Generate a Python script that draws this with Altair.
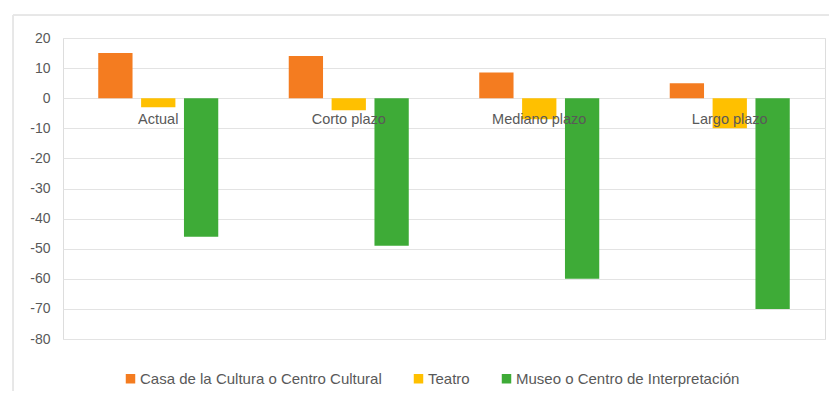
import altair as alt
import pandas as pd

categories = ["Actual", "Corto plazo", "Mediano plazo", "Largo plazo"]
series = ["Casa de la Cultura o Centro Cultural", "Teatro", "Museo o Centro de Interpretación"]
casa = [15, 14, 8.5, 5]
teatro = [-3, -4, -7, -10]
museo = [-46, -49, -60, -70]
y_ticks = [20, 10, 0, -10, -20, -30, -40, -50, -60, -70, -80]
colors = ["#F47C20", "#FFC000", "#3EAB37"]

rows = []
for i, c in enumerate(categories):
    for s, vals in zip(series, [casa, teatro, museo]):
        rows.append({"cat": c, "serie": s, "valor": vals[i]})
df = pd.DataFrame(rows)
lab = pd.DataFrame({"cat": categories})

x_enc = alt.X("cat:N", sort=categories,
              scale=alt.Scale(paddingInner=0.37, paddingOuter=0.185),
              axis=None)

y_scale = alt.Scale(domain=[-80, 20], nice=False, zero=False)
y_axis = alt.Axis(values=y_ticks, title=None, ticks=False, domain=False,
                  labelPadding=13, labelFontSize=14, labelColor="#595959",
                  labelFont="Liberation Sans", labelOverlap=False,
                  labelExpr="toString(datum.value)", tickCount=11,
                  grid=True, gridColor="#E3E3E3", gridWidth=1)

bars = alt.Chart(df).mark_bar().encode(
    x=x_enc,
    xOffset=alt.XOffset("serie:N", sort=series,
                        scale=alt.Scale(paddingInner=0.2, paddingOuter=0)),
    y=alt.Y("valor:Q", scale=y_scale, axis=y_axis),
    color=alt.Color("serie:N", sort=series,
                    scale=alt.Scale(domain=series, range=colors),
                    legend=alt.Legend(title=None, orient="none", direction="horizontal",
                                      legendX=60, legendY=333,
                                      symbolType="square", symbolSize=90,
                                      symbolStrokeWidth=0, labelFontSize=15,
                                      labelFont="Liberation Sans", labelLimit=0,
                                      labelColor="#595959", columnPadding=29,
                                      labelOffset=2)),
)

labels = alt.Chart(lab).mark_text(
    baseline="middle", align="center", dy=22, fontSize=14.5,
    font="Liberation Sans", color="#595959"
).encode(
    x=x_enc,
    y=alt.YDatum(0, scale=y_scale, axis=y_axis),
    text="cat:N",
)

frame = alt.Chart(lab).mark_rect(fill=None, stroke="#E6E6E6", strokeWidth=1).encode(
    x=alt.value(-50), x2=alt.value(900), y=alt.value(-23), y2=alt.value(500)
)

chart = alt.layer(frame, bars, labels).properties(
    width=762, height=301,
    padding={"left": 55, "top": 30, "right": 4, "bottom": 52},
    autosize=alt.AutoSizeParams(type="none"),
).configure_view(stroke=None).configure(background="white")

chart.save("out.html", embed_options={"renderer": "svg", "actions": False})
